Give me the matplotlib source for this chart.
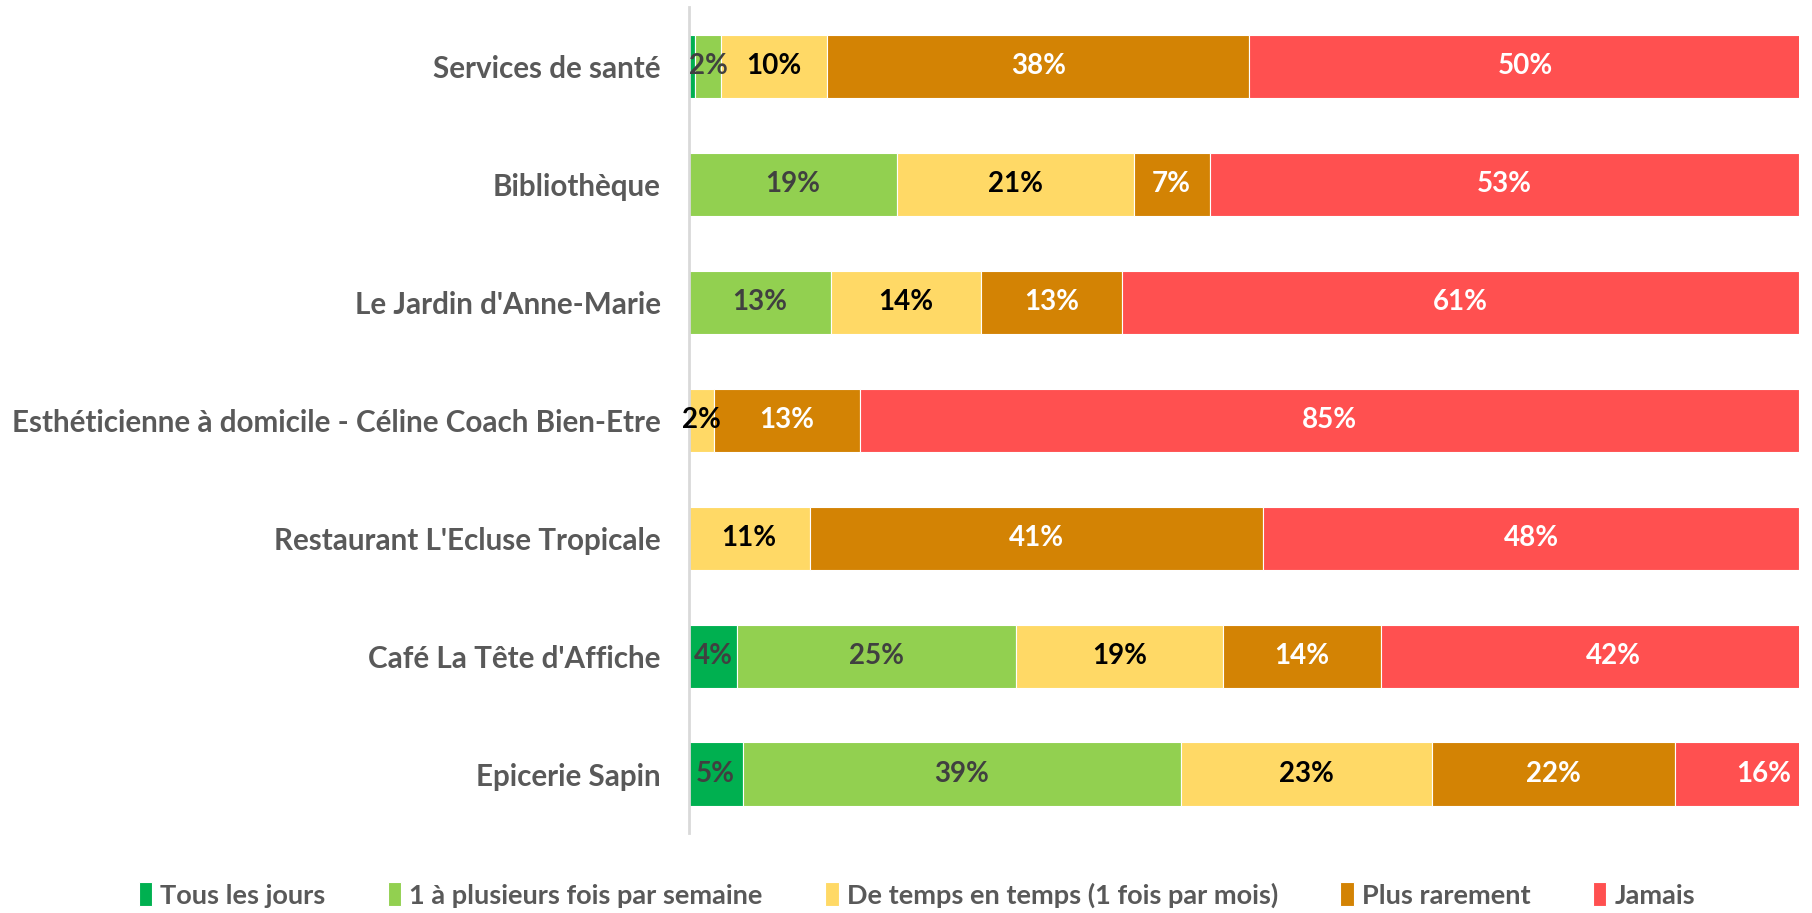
import matplotlib
matplotlib.use("Agg")
import matplotlib.pyplot as plt
import numpy as np

plt.rcParams['font.family'] = ['Lato', 'DejaVu Sans']

# categories, top to bottom
categories = ["Services de santé", "Bibliothèque", "Le Jardin d'Anne-Marie",
              "Esthéticienne à domicile - Céline Coach Bien-Etre",
              "Restaurant L'Ecluse Tropicale", "Café La Tête d'Affiche",
              "Epicerie Sapin"]
series = ["Tous les jours", "1 à plusieurs fois par semaine",
          "De temps en temps (1 fois par mois)", "Plus rarement", "Jamais"]

tous_les_jours = [0.6, 0, 0, 0, 0, 4.4, 4.9]
par_semaine = [2.3, 18.8, 12.8, 0, 0, 25.1, 39.4]
de_temps = [9.6, 21.3, 13.5, 2.3, 10.9, 18.6, 22.6]
plus_rarement = [38.0, 6.8, 12.7, 13.1, 40.8, 14.2, 21.9]
jamais = [49.6, 53.1, 61.0, 84.6, 48.3, 42.0, 16.0]

colors = ["#00b050", "#92d050", "#ffd966", "#d38304", "#ff5050"]
label_colors = ["#404040", "#404040", "#000000", "#ffffff", "#ffffff"]

fig = plt.figure(figsize=(18.12, 9.13), dpi=100)
ax = fig.add_axes([0.380, 0.0876, 0.613, 0.9044])

y = np.arange(len(categories))
left = np.zeros(len(categories))
data = [tous_les_jours, par_semaine, de_temps, plus_rarement, jamais]
for vals, name, col, lcol in zip(data, series, colors, label_colors):
    vals = np.array(vals)
    ax.barh(y, vals, left=left, height=0.535, color=col, edgecolor="white",
            linewidth=0.8, label=name)
    # percent labels, centred on the full (unclipped) segment
    for yi, (l, v) in enumerate(zip(left, vals)):
        if v >= 1:
            ax.text(l + v / 2, yi, f"{round(v):d}%", ha="center", va="center",
                    color=lcol, fontsize=20, fontweight="bold", clip_on=False)
    left += vals

ax.set_xlim(0, 100)
ax.set_ylim(len(categories) - 0.5, -0.5)
ax.set_yticks(y)
ax.set_yticklabels(categories, fontsize=21.3, fontweight="bold", color="#595959")
ax.tick_params(axis="y", length=0, pad=20)
ax.set_xticks([])
for s in ["top", "right", "bottom"]:
    ax.spines[s].set_visible(False)
ax.spines["left"].set_color("#d9d9d9")
ax.spines["left"].set_linewidth(2)

leg = fig.legend(loc="center", bbox_to_anchor=(0.506, 0.0197), ncol=5,
                 frameon=False, fontsize=19.5, handlelength=0.5, handleheight=1.0,
                 handletextpad=0.3, columnspacing=2.3)
for t in leg.get_texts():
    t.set_color("#595959")
    t.set_fontweight("bold")

fig.savefig("out.png", dpi=100)
